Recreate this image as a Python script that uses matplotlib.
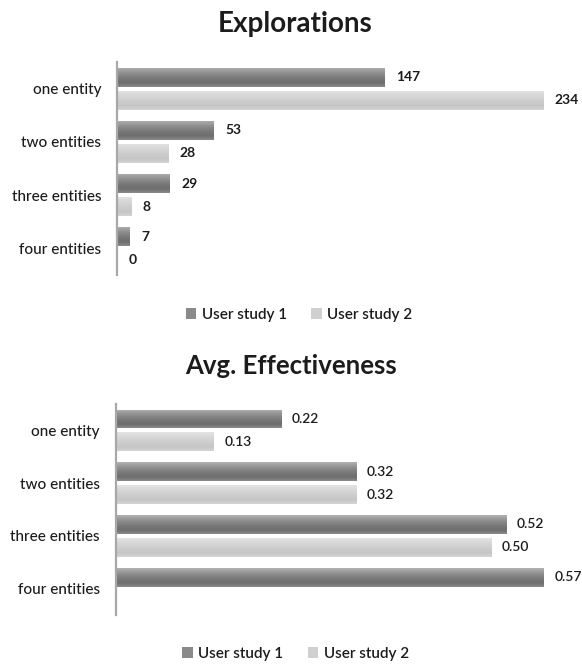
import numpy as np
import matplotlib
matplotlib.use('Agg')
import matplotlib.pyplot as plt
from matplotlib.patches import Patch

plt.rcParams['font.family'] = ['Lato', 'DejaVu Sans']

categories = ['one entity', 'two entities', 'three entities', 'four entities']
series = ['User study 1', 'User study 2']

explorations_1 = [147, 53, 29, 7]
explorations_2 = [234, 28, 8, 0]

effect_1 = [0.22, 0.32, 0.52, 0.57]
effect_2 = [0.13, 0.32, 0.50, None]

# gradient stops, top -> bottom of each bar
dark_grad = ['#b2b2b2', '#999999', '#858585', '#767676', '#6e6e6e', '#8a8a8a']
light_grad = ['#e4e4e4', '#dadada', '#d2d2d2', '#cbcbcb', '#c6c6c6', '#d4d4d4']
txt = '#1c1c1c'


def grad_bar(ax, y, w, h, stops):
    bar = ax.barh(y, w, height=h, color=stops[3], edgecolor='none', zorder=2)[0]
    cmap = matplotlib.colors.LinearSegmentedColormap.from_list('g', stops)
    g = np.linspace(0, 1, 64).reshape(-1, 1)
    im = ax.imshow(g, cmap=cmap, aspect='auto', interpolation='bilinear',
                   extent=(0, w, y + h / 2, y - h / 2), zorder=3)
    im.set_clip_path(bar)
    return bar


def panel(ax, s1, s2, xmax, fmt, vweight):
    y = np.arange(len(categories))
    h = 0.357
    off = 0.216
    for i, (a, b) in enumerate(zip(s1, s2)):
        for val, dy, stops in ((a, -off, dark_grad), (b, off, light_grad)):
            if val is None:
                continue
            grad_bar(ax, y[i] + dy, val, h, stops)
            ax.annotate(fmt(val), (val, y[i] + dy), xytext=(8, 0),
                        textcoords='offset points', va='center', ha='left',
                        fontsize=10, fontweight=vweight, color=txt,
                        annotation_clip=False)
    ax.set_xlim(0, xmax)
    ax.set_ylim(3.5, -0.5)
    ax.set_yticks(y)
    ax.set_yticklabels(categories, fontsize=11, color=txt, fontweight='medium')
    ax.tick_params(axis='y', length=0, pad=11.5)
    ax.set_xticks([])
    for s in ('top', 'right', 'bottom'):
        ax.spines[s].set_visible(False)
    ax.spines['left'].set_color('#a8a8a8')
    ax.spines['left'].set_linewidth(1.6)
    ax.spines['left'].set_zorder(5)


fig = plt.figure(figsize=(5.82, 6.65), dpi=100)

ax1 = fig.add_axes([117.3 / 582, 1 - 275 / 665, (543.7 - 117.3) / 582, 213 / 665])
panel(ax1, explorations_1, explorations_2, 234, lambda v: f'{v}', 'bold')

ax2 = fig.add_axes([115.7 / 582, 1 - 615 / 665, 0.57 * 750 / 582, 211 / 665])
panel(ax2, effect_1, effect_2, 0.57, lambda v: f'{v:.2f}', 'semibold')

fig.text(295.5 / 582, 1 - 32 / 665, 'Explorations', ha='center', va='baseline',
         fontsize=20, fontweight='bold', color=txt)
fig.text(291.5 / 582, 1 - 374 / 665, 'Avg. Effectiveness', ha='center', va='baseline',
         fontsize=18.5, fontweight='bold', color=txt)

handles = [Patch(facecolor='#8a8a8a', edgecolor='none'),
           Patch(facecolor='#d0d0d0', edgecolor='none')]
for yc, xc in ((315, 299), (654, 295.5)):
    fig.legend(handles, series, loc='center', bbox_to_anchor=(xc / 582, 1 - yc / 665),
               ncol=2, frameon=False, handlelength=0.7, handleheight=0.7,
               handletextpad=0.35, columnspacing=1.6,
               prop={'weight': 'semibold', 'size': 11})
for t in fig.legends[0].get_texts() + fig.legends[1].get_texts():
    t.set_color(txt)

fig.savefig('out.png', dpi=100)
